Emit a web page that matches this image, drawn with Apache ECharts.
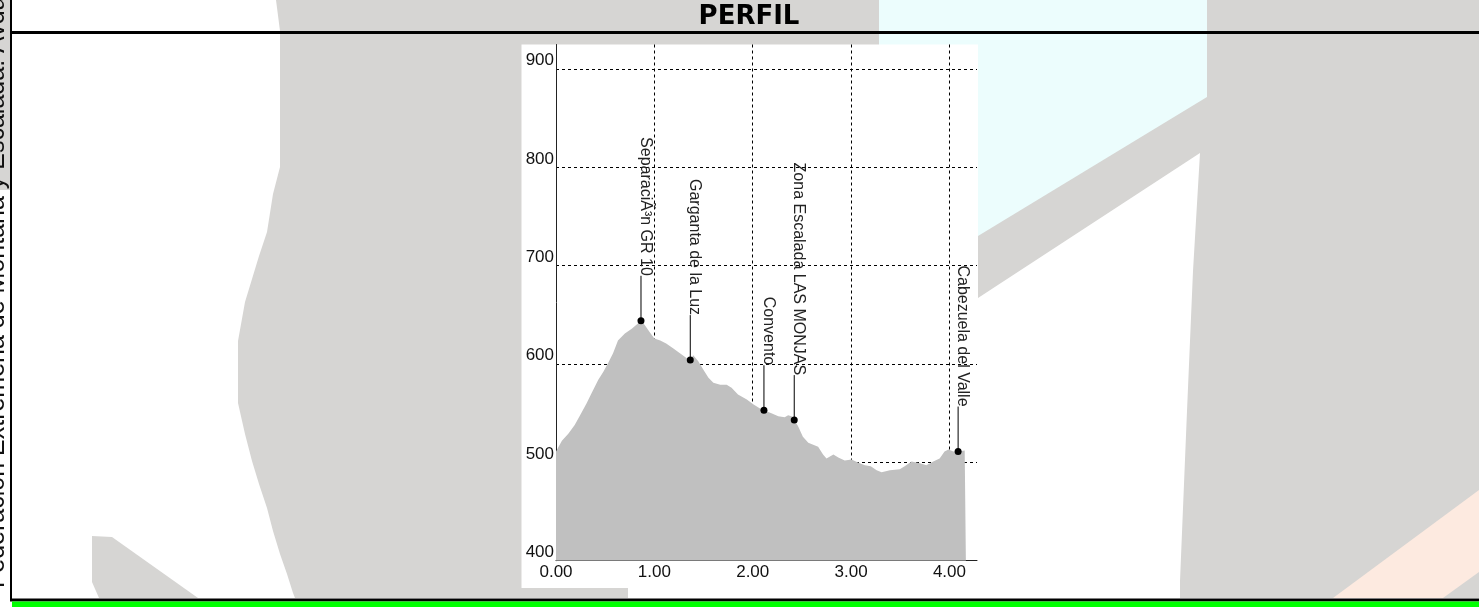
<!DOCTYPE html>
<html>
<head>
<meta charset="utf-8">
<script src="https://cdn.jsdelivr.net/npm/echarts@6/dist/echarts.min.js"></script>
<style>
html,body{margin:0;padding:0;background:#fff;}
#c{width:1479px;height:607px;}
</style>
</head>
<body>
<div id="c"></div>
<script>
// ---- data ----
const distKm = [0.0, 0.02, 0.06, 0.125, 0.19, 0.245, 0.31, 0.36, 0.43, 0.48, 0.53, 0.58, 0.63, 0.70, 0.77, 0.83, 0.864, 0.90, 0.955, 1.0, 1.06, 1.12, 1.19, 1.26, 1.33, 1.365, 1.395, 1.415, 1.445, 1.50, 1.55, 1.60, 1.67, 1.735, 1.785, 1.85, 1.94, 2.005, 2.07, 2.114, 2.19, 2.26, 2.325, 2.36, 2.395, 2.422, 2.46, 2.51, 2.565, 2.615, 2.665, 2.715, 2.75, 2.82, 2.87, 2.935, 3.005, 3.07, 3.14, 3.20, 3.26, 3.31, 3.395, 3.495, 3.545, 3.615, 3.70, 3.765, 3.835, 3.90, 3.95, 3.99, 4.04, 4.088, 4.155, 4.167];
const elevM = [511, 513, 522, 529, 538, 548, 560, 570, 584, 592, 601, 611, 624, 631, 636, 641, 644, 640, 632, 626, 624, 621, 616, 611, 606, 604, 609, 611, 603, 594, 586, 581, 579, 579, 576, 569, 564, 559, 555, 553, 550, 547, 546, 548, 547, 543, 537, 526, 520, 518, 516, 508, 504, 508, 505, 502, 503, 500, 497, 496, 492, 490, 492, 493, 496, 501, 499, 497, 501, 504, 511, 513, 511, 511, 512, 511];
const wpNames = ['SeparaciÃ³n GR 10', 'Garganta de la Luz', 'Convento', 'Zona Escalada LAS MONJAS', 'Cabezuela del Valle'];
const wpKm = [0.864, 1.365, 2.114, 2.422, 4.088];
const wpElev = [644, 604, 553, 543, 511];
const xMin = 0, xMax = 4.28, xStep = 1;
const yMin = 400, yMax = 925, yStep = 100;
const titleText = 'PERFIL';
const sideText = 'Federación Extremeña de Montaña y Escalada. Avda.';

// ---- chart ----
const chart = echarts.init(document.getElementById('c'), null, {renderer: 'canvas'});
const FONT = '"Liberation Sans", Arial, sans-serif';

const bg = [
  // big gray watermark
  {type: 'polygon', z: -100, shape: {points: [[276,0],[1479,0],[1479,598],[295,598],[293,593],[287,574],[280,554],[273,531],[267,508],[259,484],[252,461],[245,434],[238,403],[238,341],[245,302],[252,279],[259,256],[267,232],[273,194],[280,167],[280,31]]}, style: {fill: '#d6d5d3'}},
  // light cyan
  {type: 'polygon', z: -99, shape: {points: [[879,0],[1207,0],[1207,97],[978,236],[879,236]]}, style: {fill: '#ecfdfd'}},
  // white area right/bottom
  {type: 'polygon', z: -99, shape: {points: [[628,598],[628,588],[978,588],[978,298],[1200,153],[1193,271],[1187,411],[1180,581],[1180,598]]}, style: {fill: '#ffffff'}},
  // peach band
  {type: 'polygon', z: -99, shape: {points: [[1333,598],[1479,490],[1479,572],[1443,598]]}, style: {fill: '#fdeae0'}},
  // bottom left ramp
  {type: 'polygon', z: -99, shape: {points: [[92,536],[112,537],[198,598],[99,598],[92,582]]}, style: {fill: '#d6d5d3'}},
  // gray strip behind side text
  {type: 'rect', z: -99, shape: {x: 0, y: 0, width: 10, height: 190}, style: {fill: '#d6d5d3'}},
  // chart white box
  {type: 'rect', z: -90, shape: {x: 521.5, y: 44.5, width: 456.5, height: 543.5}, style: {fill: '#ffffff'}},
  // frame
  {type: 'rect', z: 100, shape: {x: 10, y: 0, width: 2, height: 601}, style: {fill: '#000'}},
  {type: 'rect', z: 100, shape: {x: 10, y: 31, width: 1469, height: 3}, style: {fill: '#000'}},
  {type: 'rect', z: 100, shape: {x: 10, y: 598.5, width: 1469, height: 3}, style: {fill: '#000'}},
  {type: 'rect', z: 100, shape: {x: 12, y: 601.5, width: 1467, height: 6}, style: {fill: '#00ff00'}},
  // title
  {type: 'text', z: 100, x: 749, y: 17, style: {text: titleText, font: 'bold 26px "DejaVu Sans", Verdana, sans-serif', fill: '#000', align: 'center', verticalAlign: 'middle'}},
  // side text
  {type: 'text', z: 100, x: 10, y: 588, rotation: Math.PI / 2, style: {text: sideText, font: '25px ' + FONT, fill: '#111', align: 'left', verticalAlign: 'bottom'}}
];

const option = {
  animation: false,
  backgroundColor: '#ffffff',
  graphic: {elements: bg},
  grid: {left: 556, top: 44.5, width: 421, height: 516.2, containLabel: false, outerBoundsMode: 'none', show: false},
  xAxis: {
    type: 'value', min: xMin, max: xMax, interval: xStep,
    axisLine: {show: true, onZero: false, lineStyle: {color: '#222', width: 1}},
    axisTick: {show: false},
    axisLabel: {show: true, showMaxLabel: false, margin: 3, color: '#111', fontFamily: FONT, fontSize: 17,
      formatter: v => (Math.abs(v - Math.round(v)) < 1e-9 ? v.toFixed(2) : '')},
    splitLine: {show: true, showMinLine: false, showMaxLine: false, lineStyle: {color: '#000', width: 1, type: [3, 3]}}
  },
  yAxis: {
    type: 'value', min: yMin, max: yMax, interval: yStep,
    axisLine: {show: true, onZero: false, lineStyle: {color: '#222', width: 1}},
    axisTick: {show: false},
    axisLabel: {show: true, showMaxLabel: false, margin: 2, color: '#111', fontFamily: FONT, fontSize: 17, verticalAlign: 'bottom',
      formatter: v => (v % 100 === 0 ? String(v) : '')},
    splitLine: {show: true, showMinLine: false, showMaxLine: false, lineStyle: {color: '#000', width: 1, type: [3, 3]}}
  },
  series: [
    {
      type: 'line', silent: true,
      data: distKm.map((d, i) => [d, elevM[i]]),
      showSymbol: false, symbol: 'none', smooth: false,
      lineStyle: {width: 0, color: '#c0c0c0'},
      areaStyle: {color: '#c0c0c0', opacity: 1},
      z: 1
    },
    {
      type: 'custom', silent: true, z: 5,
      data: wpKm.map((k, i) => [k, wpElev[i]]),
      encode: {x: 0, y: 1},
      renderItem: function (params, api) {
        const p = api.coord([api.value(0), api.value(1)]);
        const top = p[1] - 45;
        return {
          type: 'group',
          children: [
            {type: 'line', shape: {x1: p[0], y1: p[1], x2: p[0], y2: top}, style: {stroke: '#000', lineWidth: 1}},
            {type: 'circle', shape: {cx: p[0], cy: p[1], r: 3.5}, style: {fill: '#000'}},
            {type: 'text', x: p[0] - 3.5, y: top, rotation: -Math.PI / 2,
              style: {text: wpNames[params.dataIndex], font: '16px ' + FONT, fill: '#222', align: 'right', verticalAlign: 'bottom'}}
          ]
        };
      }
    }
  ]
};
chart.setOption(option);
</script>
</body>
</html>
